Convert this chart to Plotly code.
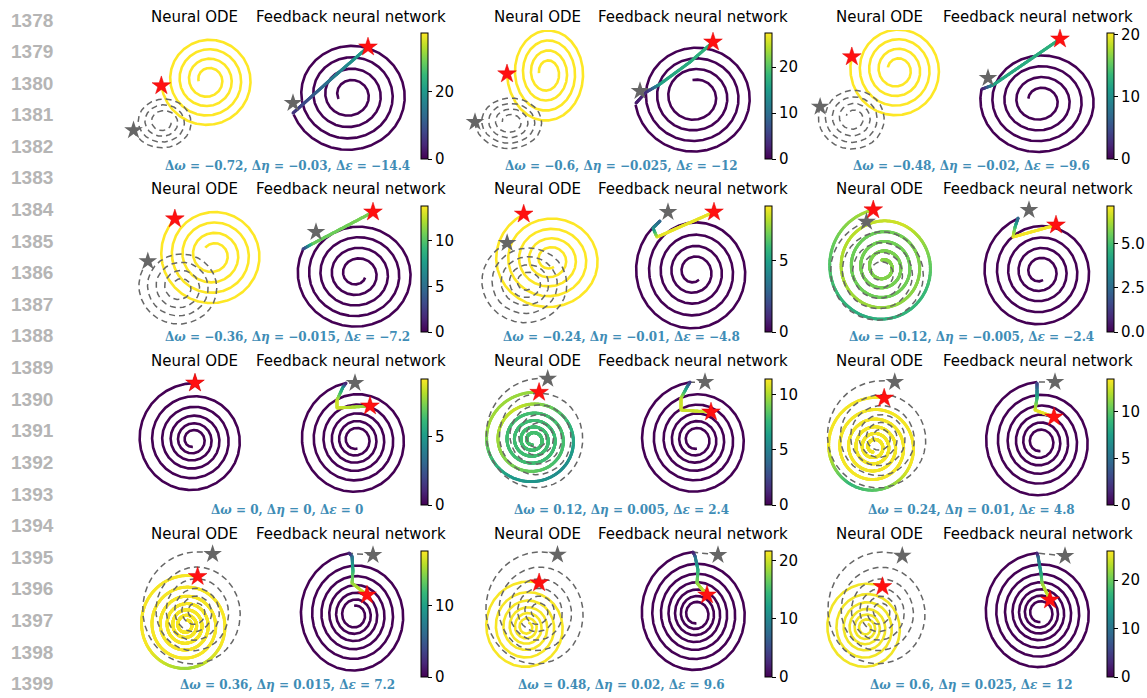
import numpy as np
import plotly.graph_objects as go
from plotly.colors import sample_colorscale

W, H = 1147, 698

# ------------------------------------------------------------------ data
line_numbers = list(range(1378, 1400))

d_omega = ["−0.72", "−0.6", "−0.48", "−0.36", "−0.24", "−0.12",
           "0", "0.12", "0.24", "0.36", "0.48", "0.6"]
d_eta = ["−0.03", "−0.025", "−0.02", "−0.015", "−0.01", "−0.005",
         "0", "0.005", "0.01", "0.015", "0.02", "0.025"]
d_eps = ["−14.4", "−12", "−9.6", "−7.2", "−4.8", "−2.4",
         "0", "2.4", "4.8", "7.2", "9.6", "12"]

panel_titles = ["Neural ODE", "Feedback neural network"]

# colour-bar range (error) of each case
cb_max = [37.6, 27.4, 20.3, 13.8, 8.8, 7.1, 9.2, 11.4, 13.5, 17.7, 21.7, 26.0]
cb_dtick = [20, 10, 10, 5, 5, 2.5, 5, 5, 5, 10, 10, 10]
cb_format = ["d", "d", "d", "d", "d", ".1f", "d", "d", "d", "d", "d", "d"]

# radial decay shape of the spirals (0 = even ring spacing, 1 = geometric)
decay_mix = [0, 0, 0, 0, 0.2, 0.2, 0.45, 0.45, 0.45, 0.5, 0.5, 0.5]

# Neural ODE panel: ground-truth spiral (centre, radii, start angle, turns, inner fraction)
nd_gt_cx = [163, 510, 853, 180, 527, 880, 193, 538, 880, 195, 538, 880]
nd_gt_cy = [122, 122, 118, 287, 283, 273, 440, 437, 438, 612, 612, 612]
nd_gt_ax = [31, 35, 35, 42, 47, 52, 57, 56, 57, 57, 57, 57]
nd_gt_ay = [27, 28, 33, 40, 44, 53, 57, 59, 58, 61, 61, 61]
nd_gt_th = [198, 180, 160, 140, 115, 105, 88, 80, 75, 72, 70, 67]
nd_gt_n = [3.5, 4, 4, 4, 4.5, 4.5, 5.5, 5, 5.5, 5.5, 5.5, 5.5]
nd_gt_f = [0.25, 0.22, 0.2, 0.18, 0.15, 0.12, 0.12, 0.12, 0.1, 0.1, 0.1, 0.1]

# Neural ODE panel: predicted spiral
nd_pr_cx = [208, 547, 897, 213, 550, 883, 193, 533, 874, 186, 527, 866]
nd_pr_cy = [80, 73, 70, 255, 260, 267, 440, 440, 447, 625, 627, 628]
nd_pr_ax = [47, 40, 47, 53, 56, 56, 57, 50, 49, 48, 44, 42]
nd_pr_ay = [47, 50, 48, 52, 52, 58, 57, 48, 50, 50, 46, 45]
nd_pr_th = [187, 181, 164, 136, 118, 100, 88, 83, 78, 76, 74, 67]
nd_pr_n = [4, 4, 4, 4, 4.5, 5, 5.5, 5.5, 5.5, 6, 6, 6]
nd_pr_f = [0.2, 0.2, 0.2, 0.2, 0.15, 0.12, 0.12, 0.1, 0.1, 0.1, 0.1, 0.1]
# error along the predicted trajectory (fraction of path, value)
nd_err_s = [[0, 1], [0, 1], [0, 1], [0, 1], [0, 1],
            [0, .04, .08, .13, .18, .24, .4, .7, 1],
            [0, 1],
            [0, .04, .08, .12, .16, .2, .3, .5, 1],
            [0, .05, .08, .1, .13, 1],
            [0, .06, .09, .12, 1],
            [0, 1], [0, 1]]
nd_err_v = [[37.6, 37.6], [27.4, 27.4], [20.3, 20.3], [13.8, 13.8], [8.8, 8.8],
            [6.3, 5.2, 4.4, 4.8, 6.6, 6.2, 5.5, 5.6, 5.8],
            [0, 0],
            [9.5, 9.8, 6.2, 5.5, 8.0, 10.5, 8.0, 7.8, 8.0],
            [13.3, 13.3, 9.0, 10.0, 13.3, 13.3],
            [17.5, 17.5, 15.0, 17.5, 17.5],
            [21.5, 21.5], [25.5, 25.5]]

# Feedback panel: tracked spiral
fb_cx = [350, 695, 1040, 357, 694, 1040, 356, 696, 1040, 355, 696, 1040]
fb_cy = [95, 97, 101, 274, 272, 272, 440, 440, 442, 615, 614, 613]
fb_ax = [60, 60, 60, 60, 60, 58, 57, 57, 57, 57, 57, 57]
fb_ay = [57, 57, 54, 56, 62, 58, 58, 58, 60, 62, 62, 60]
fb_th = [200, 188, 167, 154, 124, 111, 100, 96, 93, 96, 93, 93]
fb_n = [4, 3.75, 4, 4.5, 4.5, 4.5, 5.5, 5.5, 5.5, 6, 6.5, 6.5]
fb_f = [0.2, 0.3, 0.2, 0.15, 0.15, 0.15, 0.15, 0.15, 0.15, 0.15, 0.15, 0.15]

# Feedback panel: transient from the (wrong) start to the tracked trajectory
tr_x = [[368, 330, 293], [713, 690, 660, 646, 636], [1060, 993, 982],
        [373, 312, 303], [714, 657, 653, 660], [1056, 1013, 1015, 1018],
        [370, 337, 337, 343, 346], [711, 681, 681, 687, 690], [1054, 1035, 1037, 1037],
        [367, 352, 353, 352, 349], [707, 697, 698, 695, 693], [1050, 1042, 1041, 1038, 1037]]
tr_y = [[47, 80, 113], [42, 62, 84, 92, 103], [39, 85, 89],
        [212, 244, 249], [212, 237, 228, 221], [225, 237, 227, 218],
        [406, 408, 400, 387, 383], [412, 410, 398, 387, 382], [417, 410, 398, 383],
        [595, 583, 571, 556, 553], [595, 583, 570, 556, 552], [600, 583, 573, 556, 553]]
tr_c = [[22, 15, 6], [18, 17, 16, 4, 2], [13, 12, 2],
        [11, 10.5, 3], [8.5, 8.5, 4.5, 3], [7, 7, 5, 2.5],
        [7.5, 8.5, 8.5, 5, 1], [10.5, 10.5, 10.5, 6, 2], [13, 13, 9, 3],
        [17, 15, 12, 7, 2], [21, 18, 14, 8, 2], [25, 22, 16, 9, 3]]
gs_x = [293, 640, 988, 316, 668, 1029, 355, 705, 1055, 373, 718, 1065]
gs_y = [103, 91, 78, 232, 212, 210, 383, 382, 382, 555, 555, 556]
gt_link = [0, 0, 0, 0, 0, 0, 1, 1, 1, 1, 1, 1]

# ------------------------------------------------------------------ layout constants
ND_CX = [194, 537, 879]
FB_CX = [351, 693, 1038]
ROW_CY = [95, 267.5, 440, 612.5]
TITLE_Y = [17, 189, 361, 534]
CAP_X = [287, 621, 971]
CAP_Y = [166, 337, 510, 685]
CB_X = [421, 765, 1107]
CB_TOP = [33, 206, 379, 551]
PW, PH = 70, 65

GT_COLOR = "#666666"
CAP_COLOR = "#3f8db6"


def spiral(cx, cy, ax, ay, th0, n, f, mix):
    npts = int(420 * n)
    s = np.linspace(0, 1, npts)
    r = mix * f ** s + (1 - mix) * (1 - (1 - f) * s)
    th = np.radians(th0 + 360.0 * n * s)
    return cx + ax * r * np.cos(th), cy - ay * r * np.sin(th), s


def densify(xs, ys, cs, step=0.5):
    xs, ys, cs = map(lambda a: np.asarray(a, float), (xs, ys, cs))
    seg = np.hypot(np.diff(xs), np.diff(ys))
    cum = np.concatenate([[0], np.cumsum(seg)])
    t = np.linspace(0, cum[-1], max(int(cum[-1] / step), 2))
    return np.interp(t, cum, xs), np.interp(t, cum, ys), np.interp(t, cum, cs)


fig = go.Figure()
lay = {}
annotations = []


def ax_names(p):
    i = p + 1
    sfx = "" if i == 1 else str(i)
    return "x" + sfx, "y" + sfx, "xaxis" + sfx, "yaxis" + sfx


for k in range(12):
    r, g = divmod(k, 3)
    cy = ROW_CY[r]
    cax = "coloraxis" if k == 0 else f"coloraxis{k + 1}"
    cmax = cb_max[k]
    mix = decay_mix[k]

    # axes
    for j, cx in enumerate([ND_CX[g], FB_CX[g]]):
        xn, yn, xa, ya = ax_names(2 * k + j)
        lay[xa] = dict(domain=[(cx - PW) / W, (cx + PW) / W], range=[cx - PW, cx + PW],
                       visible=False, fixedrange=True, anchor=yn)
        lay[ya] = dict(domain=[1 - (cy + PH) / H, 1 - (cy - PH) / H], range=[cy + PH, cy - PH],
                       visible=False, fixedrange=True, anchor=xn)
        annotations.append(dict(x=cx / W, y=1 - TITLE_Y[r] / H, xref="paper", yref="paper",
                                text=panel_titles[j], showarrow=False, xanchor="center",
                                yanchor="middle",
                                font=dict(family="DejaVu Sans", size=15, color="black")))

    # colour axis
    lay[cax] = dict(
        colorscale="Viridis", cmin=0, cmax=cmax,
        colorbar=dict(x=CB_X[g] / W, xanchor="left", xpad=0, ypad=0,
                      y=1 - CB_TOP[r] / H, yanchor="top",
                      len=126, lenmode="pixels", thickness=7, thicknessmode="pixels",
                      outlinewidth=1, outlinecolor="black",
                      ticks="outside", ticklen=4, tickwidth=1, tickcolor="black",
                      tick0=0, dtick=cb_dtick[k], tickformat=cb_format[k],
                      tickfont=dict(family="DejaVu Sans", size=15, color="black")))

    # ---------------- Neural ODE panel
    xn, yn, _, _ = ax_names(2 * k)
    gx, gy, _ = spiral(nd_gt_cx[k], nd_gt_cy[k], nd_gt_ax[k], nd_gt_ay[k],
                       nd_gt_th[k], nd_gt_n[k], nd_gt_f[k], mix)
    px_, py_, ps = spiral(nd_pr_cx[k], nd_pr_cy[k], nd_pr_ax[k], nd_pr_ay[k],
                          nd_pr_th[k], nd_pr_n[k], nd_pr_f[k], mix)
    pc = np.interp(ps, nd_err_s[k], nd_err_v[k])
    gt_trace = go.Scatter(x=gx, y=gy, mode="lines", xaxis=xn, yaxis=yn,
                          line=dict(color=GT_COLOR, width=1.5, dash="6px,4px"),
                          hoverinfo="skip", showlegend=False, cliponaxis=False)
    dash_on_top = max(nd_err_v[k]) != 0
    if not dash_on_top:
        fig.add_trace(gt_trace)
    if len(set(nd_err_v[k])) == 1:
        col = sample_colorscale("Viridis", [min(nd_err_v[k][0] / cmax, 1)])[0]
        fig.add_trace(go.Scatter(x=px_, y=py_, mode="lines", xaxis=xn, yaxis=yn,
                                 line=dict(color=col, width=2.6),
                                 hoverinfo="skip", showlegend=False, cliponaxis=False))
    else:
        fig.add_trace(go.Scatter(x=px_, y=py_, mode="markers", xaxis=xn, yaxis=yn,
                                 marker=dict(size=3, color=pc, coloraxis=cax),
                                 hoverinfo="skip", showlegend=False, cliponaxis=False))
    if dash_on_top:
        fig.add_trace(gt_trace)
    fig.add_trace(go.Scatter(x=[gx[0]], y=[gy[0]], mode="markers", xaxis=xn, yaxis=yn,
                             marker=dict(symbol="star", size=14, color=GT_COLOR),
                             hoverinfo="skip", showlegend=False, cliponaxis=False))
    fig.add_trace(go.Scatter(x=[px_[0]], y=[py_[0]], mode="markers", xaxis=xn, yaxis=yn,
                             marker=dict(symbol="star", size=14, color="#ff1010",
                                         line=dict(color="#e00000", width=0.5)),
                             hoverinfo="skip", showlegend=False, cliponaxis=False))

    # ---------------- Feedback panel
    xn, yn, _, _ = ax_names(2 * k + 1)
    fx, fy, _ = spiral(fb_cx[k], fb_cy[k], fb_ax[k], fb_ay[k], fb_th[k], fb_n[k], fb_f[k], mix)
    if gt_link[k]:
        fig.add_trace(go.Scatter(x=[gs_x[k], fx[0]], y=[gs_y[k], fy[0]], mode="lines",
                                 xaxis=xn, yaxis=yn,
                                 line=dict(color=GT_COLOR, width=1.5, dash="6px,4px"),
                                 hoverinfo="skip", showlegend=False, cliponaxis=False))
    fig.add_trace(go.Scatter(x=fx, y=fy, mode="lines", xaxis=xn, yaxis=yn,
                             line=dict(color=sample_colorscale("Viridis", [0])[0], width=2.6),
                             hoverinfo="skip", showlegend=False, cliponaxis=False))
    tx, ty, tc = densify(tr_x[k], tr_y[k], tr_c[k])
    fig.add_trace(go.Scatter(x=tx, y=ty, mode="markers", xaxis=xn, yaxis=yn,
                             marker=dict(size=3, color=tc, coloraxis=cax),
                             hoverinfo="skip", showlegend=False, cliponaxis=False))
    fig.add_trace(go.Scatter(x=[gs_x[k]], y=[gs_y[k]], mode="markers", xaxis=xn, yaxis=yn,
                             marker=dict(symbol="star", size=14, color=GT_COLOR),
                             hoverinfo="skip", showlegend=False, cliponaxis=False))
    fig.add_trace(go.Scatter(x=[tr_x[k][0]], y=[tr_y[k][0]], mode="markers", xaxis=xn, yaxis=yn,
                             marker=dict(symbol="star", size=14, color="#ff1010",
                                         line=dict(color="#e00000", width=0.5)),
                             hoverinfo="skip", showlegend=False, cliponaxis=False))

    # caption
    cap = (f"<b>Δ<i>ω</i> = {d_omega[k]}, Δ<i>η</i> = {d_eta[k]}, "
           f"Δ<i>ε</i> = {d_eps[k]}</b>")
    annotations.append(dict(x=CAP_X[g] / W, y=1 - CAP_Y[r] / H, xref="paper", yref="paper",
                            text=cap, showarrow=False, xanchor="center", yanchor="middle",
                            font=dict(family="DejaVu Serif", size=12, color=CAP_COLOR)))

# line numbers on the left margin
for i, num in enumerate(line_numbers):
    annotations.append(dict(x=32 / W, y=1 - (20 + 31.6 * i) / H, xref="paper", yref="paper",
                            text=f"<b>{num}</b>", showarrow=False, xanchor="center",
                            yanchor="middle",
                            font=dict(family="Liberation Sans", size=19, color="#b5b5b5")))

fig.update_layout(width=W, height=H, margin=dict(l=0, r=0, t=0, b=0),
                  paper_bgcolor="white", plot_bgcolor="rgba(0,0,0,0)",
                  showlegend=False, annotations=annotations, **lay)

fig.write_html("out.html")
